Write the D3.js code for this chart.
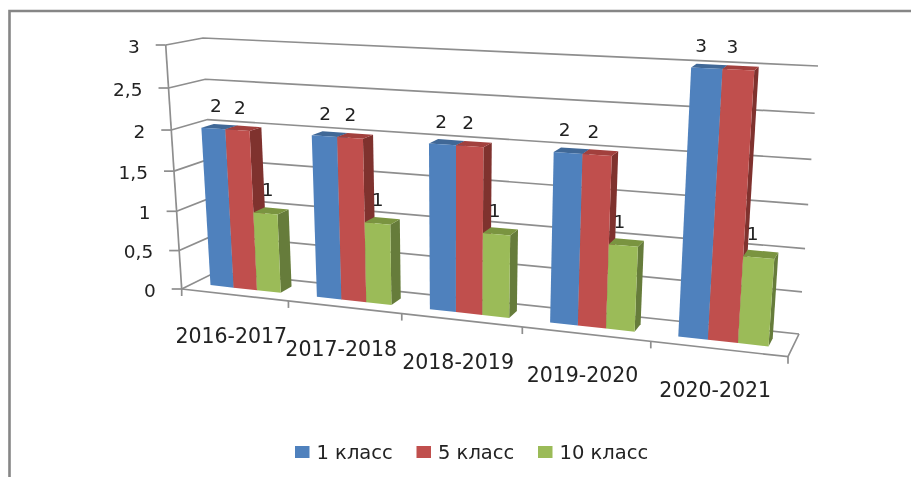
<!DOCTYPE html>
<html>
<head>
<meta charset="utf-8">
<script src="https://cdnjs.cloudflare.com/ajax/libs/d3/7.8.5/d3.min.js"></script>
<style>
html, body { margin: 0; padding: 0; background: #fff; overflow: hidden; }
svg { display: block; }
text { font-family: "DejaVu Sans", sans-serif; fill: #222; }
</style>
</head>
<body>
<svg id="chart"></svg>
<script>
var years = ["2016-2017", "2017-2018", "2018-2019", "2019-2020", "2020-2021"];
var series_names = ["1 класс", "5 класс", "10 класс"];
var class_1 = [2, 2, 2, 2, 3];
var class_5 = [2, 2, 2, 2, 3];
var class_10 = [1, 1, 1, 1, 1];
var value_ticks = [0, 0.5, 1, 1.5, 2, 2.5, 3];

var width = 911, height = 477;
var series_values = [class_1, class_5, class_10];
var front_colors = ["#4f81bd", "#c0504d", "#9bbb59"];
var side_colors = ["#385d8a", "#7f302e", "#667c3a"];
var top_colors = ["#3f6797", "#a23f3c", "#7a9440"];

var svg = d3.select("#chart").attr("width", width).attr("height", height);

// slight softening, the reference is a scaled up raster
svg.append("defs").append("filter").attr("id", "soft")
    .append("feGaussianBlur").attr("stdDeviation", 0.45);

var plot = svg.append("g").attr("filter", "url(#soft)");

// corners of the 3d box on screen: [x (0 left, 1 right)][y (0 floor, 1 top)][z (0 front, 1 back)]
var box = {
    "000": [181.7, 289], "100": [788, 356.7],
    "001": [216, 272],   "101": [799, 334],
    "010": [165.7, 45],  "110": [807.6, 77],
    "011": [203, 38],    "111": [818, 66]
};

// perspective bunching along an axis
function warp(t, k) {
    return t / (t + k * (1 - t));
}

var yScale = d3.scaleLinear().domain([0, 3]).range([0, 1]);
var zFront = 0.34, zBack = 0.69;

// position on the floor, 0..1
var xBand = d3.scaleBand().domain(d3.range(years.length)).range([0, 1]);
var bw = xBand.bandwidth();
var xInner = d3.scaleBand().domain(d3.range(series_names.length)).range([bw / 6, bw * 5 / 6]);

function project(u, value, z) {
    var a = warp(u, 1.17), b = warp(yScale(value), 1.07), c = z;
    var p = [0, 0];
    [0, 1].forEach(function(i) {
        [0, 1].forEach(function(j) {
            [0, 1].forEach(function(l) {
                var w = (i ? a : 1 - a) * (j ? b : 1 - b) * (l ? c : 1 - c);
                var corner = box["" + i + j + l];
                p[0] += w * corner[0];
                p[1] += w * corner[1];
            });
        });
    });
    return p;
}

var line = d3.line();
var grid_color = "#8e8e8e";

function draw_line(points, w) {
    plot.append("path")
        .attr("d", line(points))
        .attr("fill", "none")
        .attr("stroke", grid_color)
        .attr("stroke-width", w || 1.7);
}

// walls and floor
value_ticks.forEach(function(v) {
    draw_line([project(0, v, 0), project(0, v, 1), project(1, v, 1)]);
});
draw_line([project(1, 0, 1), project(1, 0, 0), project(0, 0, 0)]);
draw_line([project(0, 0, 0), project(0, 3, 0)]);

// tick marks
value_ticks.forEach(function(v) {
    var p = project(0, v, 0);
    draw_line([[p[0] - 10, p[1]], p]);
});
d3.range(years.length + 1).forEach(function(i) {
    var p = project(i / years.length, 0, 0);
    draw_line([p, [p[0], p[1] + 7]]);
});

// value axis labels
var axis_format = function(v) { return String(v).replace(".", ","); };
plot.selectAll(".ytick")
    .data(value_ticks)
    .enter().append("text")
    .attr("class", "ytick")
    .attr("x", function(d) { return project(0, d, 0)[0] - 26; })
    .attr("y", function(d) { return project(0, d, 0)[1] + 1; })
    .attr("dy", "0.36em")
    .attr("text-anchor", "end")
    .style("font-size", "18.5px")
    .text(axis_format);

// bars, left to right so neighbours overlap the right way
function polygon(points, color) {
    plot.append("polygon")
        .attr("points", points.map(function(p) { return p.join(","); }).join(" "))
        .attr("fill", color);
}

years.forEach(function(year, i) {
    series_values.forEach(function(values, s) {
        var u0 = xBand(i) + xInner(s);
        var u1 = u0 + xInner.bandwidth();
        var v = values[i];
        polygon([project(u1, 0, zFront), project(u1, 0, zBack), project(u1, v, zBack), project(u1, v, zFront)], side_colors[s]);
        polygon([project(u0, v, zFront), project(u1, v, zFront), project(u1, v, zBack), project(u0, v, zBack)], top_colors[s]);
        polygon([project(u0, 0, zFront), project(u1, 0, zFront), project(u1, v, zFront), project(u0, v, zFront)], front_colors[s]);
    });
});

// data labels
var label_shift = d3.scaleLinear().domain([0, years.length - 1]).range([-3, -8]);
years.forEach(function(year, i) {
    series_values.forEach(function(values, s) {
        var u = xBand(i) + xInner(s) + xInner.bandwidth() / 2;
        var p = project(u, values[i], 0.5);
        plot.append("text")
            .attr("x", p[0] + label_shift(i))
            .attr("y", p[1] - 21.5)
            .attr("dy", "0.36em")
            .attr("text-anchor", "middle")
            .style("font-size", "18.5px")
            .text(values[i]);
    });
});

// category labels
years.forEach(function(year, i) {
    var p = project(xBand(i) + bw / 2, 0, 0);
    plot.append("text")
        .attr("x", p[0] - 3)
        .attr("y", p[1] + 41)
        .attr("dy", "0.36em")
        .attr("text-anchor", "middle")
        .style("font-size", "20.5px")
        .text(year);
});

// legend
var legend_x = d3.scalePoint().domain(series_names).range([295, 538]);
series_names.forEach(function(name, s) {
    plot.append("rect")
        .attr("x", legend_x(name))
        .attr("y", 446)
        .attr("width", 14.5)
        .attr("height", 12)
        .attr("fill", front_colors[s]);
    plot.append("text")
        .attr("x", legend_x(name) + 21.5)
        .attr("y", 452)
        .attr("dy", "0.36em")
        .style("font-size", "19.5px")
        .text(name);
});

// outer frame, cut by the page on the right and bottom
plot.append("path")
    .attr("d", "M9.5," + (height + 5) + "V11H" + (width + 5))
    .attr("fill", "none")
    .attr("stroke", "#868686")
    .attr("stroke-width", 2.6);
</script>
</body>
</html>
